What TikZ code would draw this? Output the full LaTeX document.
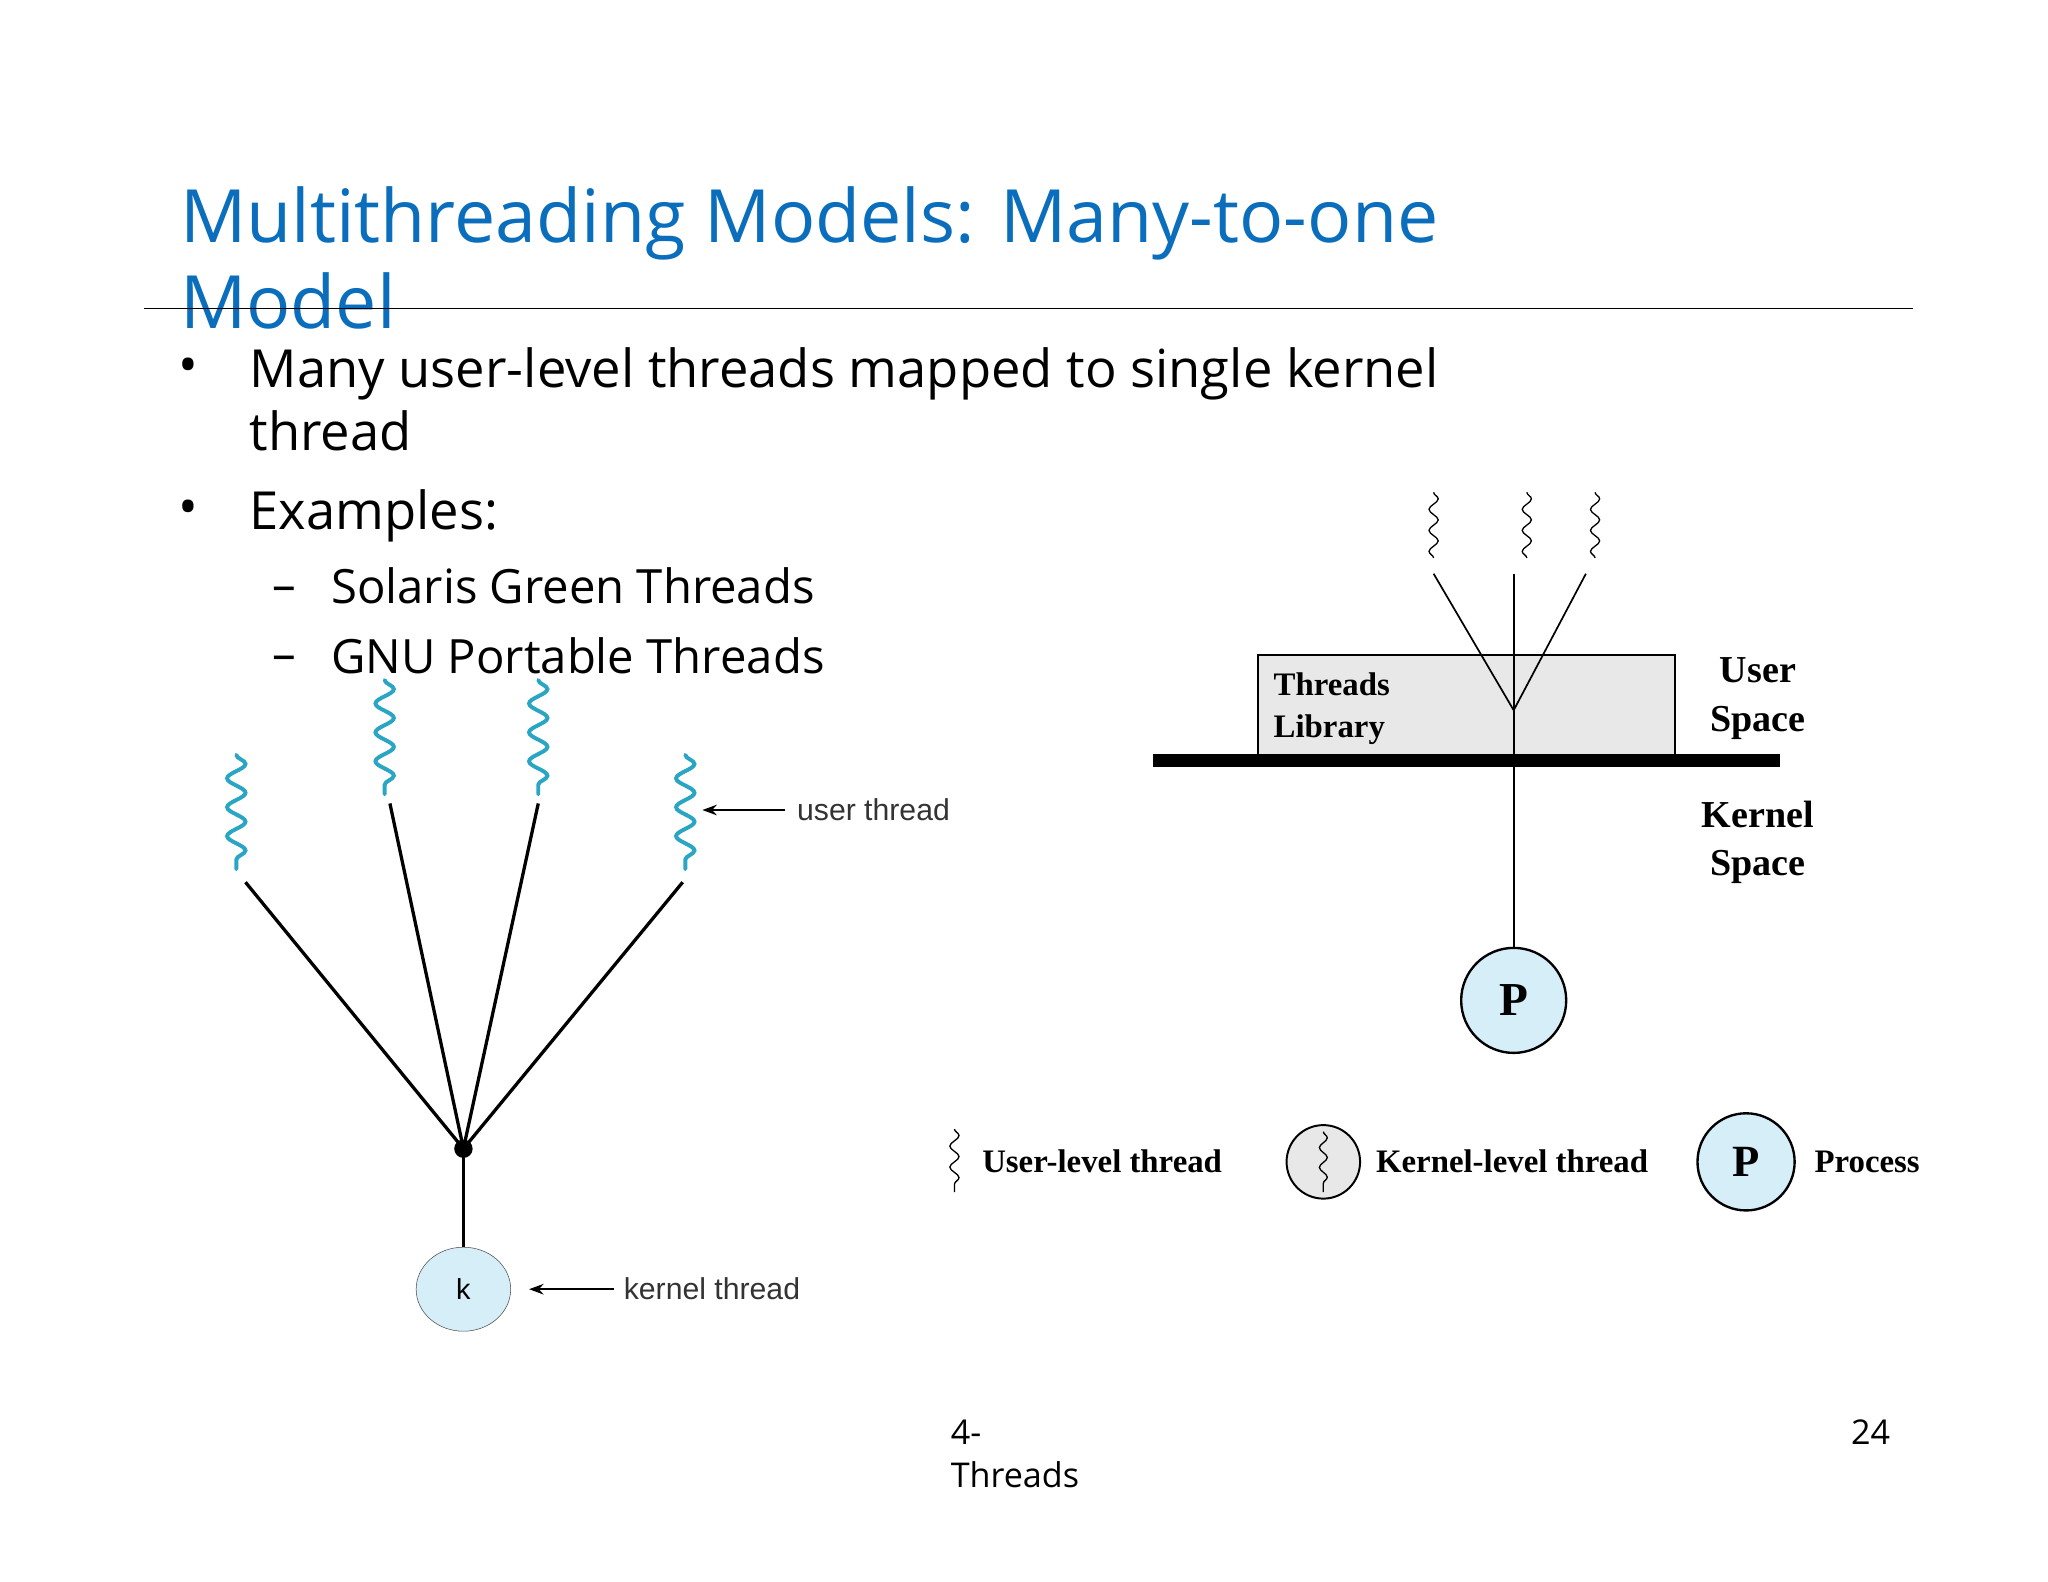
\documentclass[tikz,border=0pt]{standalone}
\usepackage{fontspec}
\setmainfont{Open Sans}
\newfontfamily\serifb{Liberation Serif}
\newfontfamily\arialf{Liberation Sans}
\usetikzlibrary{decorations.pathmorphing,arrows.meta,shapes.geometric}
\definecolor{ttl}{HTML}{0A6EBD}
\definecolor{cyn}{HTML}{2AA6C4}
\definecolor{lblue}{HTML}{D6EEF8}
\definecolor{lgray}{HTML}{E8E8E8}
\tikzset{
 txt/.style={anchor=base west,inner sep=0pt},
 wave/.style={cyn,line width=3pt,line cap=round,decorate,decoration={snake,amplitude=7pt,segment length=22pt}},
 sq/.style={black,line width=1pt,decorate,decoration={snake,amplitude=3.5pt,segment length=16pt}},
 thin/.style={line width=1.3pt},
 lab/.style={txt,font=\serifb\bfseries\fontsize{25}{30}\selectfont},
 arr/.style={line width=1.8pt,-{Stealth[length=11pt,width=8pt]}}
}
\begin{document}
\begin{tikzpicture}[x=1pt,y=-1pt]
\useasboundingbox[fill=white] (0,0) rectangle (1560,1205);
% title
\node[txt,ttl,font=\fontsize{56}{60}\selectfont] (t1) at (137,185) {Multithreading Models: Many-to-one};
\node[txt,ttl,font=\fontsize{56}{60}\selectfont] (t2) at (137,250) {Model};
\draw[line width=1.3pt] (110,235) -- (1457,235);
% bullets
\tikzset{bt/.style={txt,font=\fontsize{40}{44}\selectfont}, st/.style={txt,font=\fontsize{36}{40}\selectfont}}
\node[bt] (b1) at (136,292) {•};
\node[bt] (b1t) at (190,295) {Many user-level threads mapped to single kernel};
\node[bt] (b1u) at (190,343) {thread};
\node[bt] (b2) at (136,400) {•};
\node[bt] (b2t) at (190,403) {Examples:};
\node[st] (d1) at (207,458) {–};
\node[st] (s1) at (252,460) {Solaris Green Threads};
\node[st] (d2) at (207,511) {–};
\node[st] (s2) at (252,513) {GNU Portable Threads};
% left diagram
\foreach \n/\x/\y in {a/180/575,b/293/518,c/410/518,d/522/575}{
  \draw[wave] (\x,\y) -- (\x,\y+87);
}
\coordinate (la) at (187,672); \coordinate (lb) at (297,612);
\coordinate (lc) at (410,612); \coordinate (ld) at (520,672);
\node[circle,fill=black,inner sep=0pt,minimum size=14pt] (dot) at (353,875) {};
\foreach \c in {la,lb,lc,ld} \draw[line width=2.5pt] (\c) -- (dot.center);
\node[ellipse,draw=black!70,fill=lblue,minimum width=72pt,minimum height=64pt,inner sep=0pt,font=\arialf\fontsize{22}{24}\selectfont] (k) at (353,982) {k};
\draw[line width=2.5pt] (dot.center) -- (k);
\coordinate (ua) at (598,617); \coordinate (ub) at (535,617);
\draw[arr] (ua) -- (ub);
\node[txt,font=\arialf\fontsize{23}{26}\selectfont,black!80] (ut) at (607,625) {user thread};
\coordinate (ka) at (468,982); \coordinate (kb) at (403,982);
\draw[arr] (ka) -- (kb);
\node[txt,font=\arialf\fontsize{23}{26}\selectfont,black!80] (kt) at (475,990) {kernel thread};
% right diagram
\foreach \x in {1092,1163,1215} \draw[sq] (\x,375) -- (\x,425);
\node[draw,thin,fill=lgray,minimum width=318pt,minimum height=76pt,inner sep=0pt] (lib) at (1117,537) {};
\coordinate (j) at (1153,541);
\coordinate (r1) at (1092,437); \coordinate (r2) at (1153,437); \coordinate (r3) at (1208,437);
\foreach \c in {r1,r2,r3} \draw[thin] (\c) -- (j);
\node[lab] (tl1) at (970,530) {Threads};
\node[lab] (tl2) at (970,562) {Library};
\draw[line width=10pt] (878,579) -- (1356,579);
\node[circle,draw,line width=1.8pt,fill=lblue,minimum size=80pt,inner sep=0pt,font=\serifb\bfseries\fontsize{36}{40}\selectfont] (P) at (1153,762) {P};
\draw[thin] (j) -- (P);
\node[lab,anchor=base,font=\serifb\bfseries\fontsize{29}{32}\selectfont] (us1) at (1339,520) {User};
\node[lab,anchor=base,font=\serifb\bfseries\fontsize{29}{32}\selectfont] (us2) at (1339,557) {Space};
\node[lab,anchor=base,font=\serifb\bfseries\fontsize{29}{32}\selectfont] (ks1) at (1339,630) {Kernel};
\node[lab,anchor=base,font=\serifb\bfseries\fontsize{29}{32}\selectfont] (ks2) at (1339,667) {Space};
% legend
\draw[sq] (727,860) -- (727,908);
\node[lab] (l1) at (748,893) {User-level thread};
\node[circle,draw,line width=1.5pt,fill=lgray,minimum size=56pt,inner sep=0pt] (kc) at (1008,885) {};
\draw[sq,decoration={snake,amplitude=3pt,segment length=15pt}] (1008,862) -- (1008,908);
\node[lab] (l2) at (1048,893) {Kernel-level thread};
\node[circle,draw,line width=1.8pt,fill=lblue,minimum size=74pt,inner sep=0pt,font=\serifb\bfseries\fontsize{34}{38}\selectfont] (P2) at (1330,885) {P};
\node[lab] (l3) at (1382,893) {Process};
% footer
\node[txt,font=\fontsize{26}{30}\selectfont] (f1) at (724,1100) {4-};
\node[txt,font=\fontsize{26}{30}\selectfont] (f2) at (724,1133) {Threads};
\node[anchor=base east,inner sep=0pt,font=\fontsize{26}{30}\selectfont] (f3) at (1440,1100) {24};
\end{tikzpicture}
\end{document}
